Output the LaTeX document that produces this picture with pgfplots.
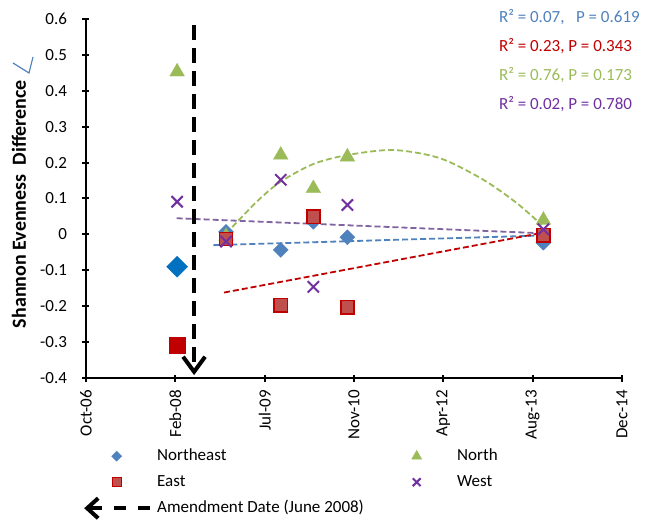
\documentclass[border=0pt]{standalone}
\usepackage{fontspec}
\setmainfont{Carlito}
\usepackage{pgfplots}
\pgfplotsset{compat=1.18}
\usetikzlibrary{arrows.meta}
\definecolor{neblue}{RGB}{79,129,189}
\definecolor{nebig}{RGB}{0,112,192}
\definecolor{eastred}{RGB}{192,0,0}
\definecolor{eastfill}{RGB}{192,80,77}
\definecolor{ngreen}{RGB}{155,187,89}
\definecolor{wpurple}{RGB}{112,48,160}
\definecolor{tpurple}{RGB}{128,100,162}
\newcommand{\fs}{\fontsize{17bp}{20bp}\selectfont}
\pgfplotsset{
  mylegmark/.style={legend image code/.code={%
    \path[draw=none, fill=none] (0bp,-7bp) rectangle (67bp,7bp);
    \draw[##1] plot coordinates {(33.5bp,0bp)};}},
}
\begin{document}
\begin{tikzpicture}
\begin{axis}[
  at={(0,0)}, anchor=south west,
  scale only axis, width=536bp, height=359bp,
  xmin=0, xmax=6, ymin=-0.4, ymax=0.6,
  axis x line=bottom, axis y line=left,
  axis line style={line width=2.2bp, -},
  xtick={0,1,2,3,4,5,6},
  xticklabels={Oct-06,Feb-08,Jul-09,Nov-10,Apr-12,Aug-13,Dec-14},
  ytick={-0.4,-0.3,-0.2,-0.1,0,0.1,0.2,0.3,0.4,0.5,0.6},
  yticklabels={-0.4,-0.3,-0.2,-0.1,0,0.1,0.2,0.3,0.4,0.5,0.6},
  tick align=center, major tick length=7bp,
  every tick/.style={line width=2bp, black},
  x tick label style={rotate=90, anchor=east, font=\fs},
  xticklabel shift=5bp,
  y tick label style={font=\fs, xshift=-12bp},
  ylabel={Shannon Evenness\ \ Difference},
  ylabel style={font=\fontsize{20bp}{24bp}\selectfont\bfseries, at={(axis description cs:-0.125,0.4847)}, anchor=center},
  clip=false,
  legend columns=2,
  legend cell align=left,
  legend style={at={(axis description cs:-0.0056,-0.1978)}, anchor=north west,
    draw=none, fill=none, inner sep=0pt, font=\fs, row sep=12bp,
    nodes={inner xsep=7bp, inner ysep=0pt, text height=11bp, text depth=3bp, anchor=west}},
]
% Northeast
\addplot[only marks, mark=diamond*, mark size=7.5bp, mark options={xscale=1.333, fill=neblue, draw=neblue}, forget plot]
  coordinates {(1.568,0.007) (2.18,-0.043) (2.545,0.035) (2.926,-0.008) (5.12,-0.023)};
\addplot[only marks, mark=diamond*, mark size=10.5bp, mark options={xscale=1.333, fill=nebig, draw=nebig}, forget plot]
  coordinates {(1.02,-0.090)};
% North
\addplot[only marks, mark=triangle*, mark size=8.6bp, mark options={fill=ngreen, draw=ngreen, line width=0.2bp}, forget plot]
  coordinates {(1.02,0.453) (1.568,-0.005) (2.18,0.221) (2.545,0.128) (2.926,0.216) (5.12,0.040)};
% East
\addplot[only marks, mark=square*, mark size=6.6bp, mark options={fill=eastfill, draw=eastred, line width=1.6bp}, forget plot]
  coordinates {(1.568,-0.013) (2.18,-0.197) (2.545,0.049) (2.926,-0.203) (5.12,-0.002)};
\addplot[only marks, mark=square*, mark size=7.8bp, mark options={fill=eastred, draw=eastred, line width=0.2bp}, forget plot]
  coordinates {(1.02,-0.308)};
% West
\addplot[only marks, mark=x, mark size=8bp, mark options={draw=wpurple, line width=2bp}, forget plot]
  coordinates {(1.02,0.091) (1.568,-0.020) (2.18,0.152) (2.545,-0.146) (2.926,0.082) (5.12,0.014)};
% trend lines
\addplot[tpurple, line width=1.8bp, dash pattern=on 6bp off 3bp, forget plot] coordinates {(1.015,0.045) (5.12,0.003)};
\addplot[neblue, line width=1.8bp, dash pattern=on 6bp off 3bp, forget plot] coordinates {(1.425,-0.030) (5.12,-0.003)};
\addplot[eastred, line width=1.8bp, dash pattern=on 6bp off 3bp, forget plot] coordinates {(1.545,-0.162) (5.12,0.005)};
\addplot[ngreen, line width=1.8bp, dash pattern=on 6bp off 3bp, smooth, forget plot] coordinates {
  (1.568,0.002) (1.911,0.091) (2.180,0.147) (2.545,0.196) (2.926,0.221) (3.441,0.235)
  (3.964,0.212) (4.449,0.152) (4.823,0.087) (5.103,0.026)};
% amendment arrow
\draw[black, line width=4bp, dash pattern=on 15bp off 8bp, -{Straight Barb[length=15bp, width=22bp]}]
  (axis cs:1.21,0.583) -- (axis cs:1.21,-0.392);
% R2 texts
\node[anchor=west, font=\fs, text=neblue] at (axis description cs:0.764,1.0056) {R² = 0.07,\ \ \ P = 0.619};
\node[anchor=west, font=\fs, text=eastred] at (axis description cs:0.764,0.925) {R² = 0.23, P = 0.343};
\node[anchor=west, font=\fs, text=ngreen] at (axis description cs:0.764,0.844) {R² = 0.76, P = 0.173};
\node[anchor=west, font=\fs, text=wpurple] at (axis description cs:0.764,0.763) {R² = 0.02, P = 0.780};
% legend
\addlegendimage{only marks, mark=diamond*, mark size=5bp, mark options={xscale=1.333, fill=neblue, draw=neblue}, mylegmark}
\addlegendentry{\makebox[219bp][l]{Northeast}}
\addlegendimage{only marks, mark=triangle*, mark size=5.8bp, mark options={fill=ngreen, draw=ngreen}, mylegmark}
\addlegendentry{North}
\addlegendimage{only marks, mark=square*, mark size=4.5bp, mark options={fill=eastfill, draw=eastred, line width=1.3bp}, mylegmark}
\addlegendentry{East}
\addlegendimage{only marks, mark=x, mark size=5.5bp, mark options={draw=wpurple, line width=2bp}, mylegmark}
\addlegendentry{West}
\addlegendimage{legend image code/.code={%
  \path[draw=none, fill=none] (0bp,-7bp) rectangle (67bp,7bp);
  \draw[overlay, black, line width=4bp, dash pattern=on 12bp off 12bp, -{Straight Barb[length=11bp, width=20bp]}] (67bp,0bp) -- (1bp,0bp);}}
\addlegendentry{Amendment Date (June 2008)}
\end{axis}
\draw[neblue, line width=1.2bp] (-73bp,315bp) -- (-57bp,305bp) -- (-53bp,321bp);
\pgfresetboundingbox
\path[use as bounding box] (-86bp,-142bp) rectangle (565bp,378bp);
\end{tikzpicture}
\end{document}
